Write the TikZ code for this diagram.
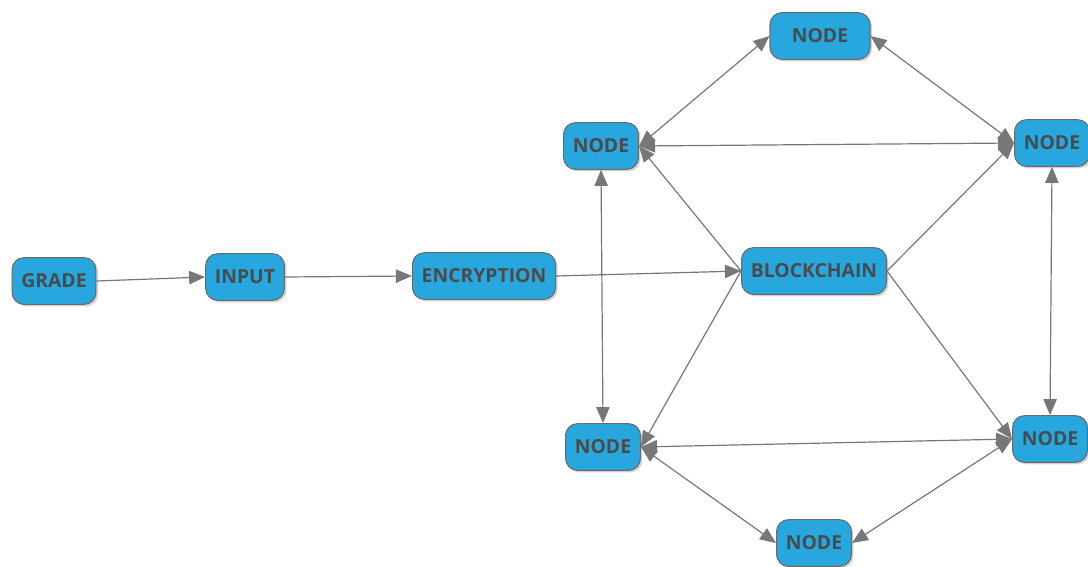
\documentclass[tikz,border=0pt]{standalone}
\usepackage{fontspec}
\setmainfont{Open Sans}
\usetikzlibrary{arrows.meta,shadows}

\definecolor{boxblue}{HTML}{27A7DE}
\definecolor{boxline}{HTML}{6A6A6A}
\definecolor{boxtext}{HTML}{4A4A4A}
\definecolor{linkgray}{HTML}{777777}

\begin{document}
\begin{tikzpicture}[x=0.75pt,y=-0.75pt]
 \tikzstyle{arrow} = [-{Triangle[length=12pt,width=10pt]},draw=linkgray,line width=0.9pt];
 \tikzstyle{both} = [{Triangle[length=12pt,width=10pt]}-{Triangle[length=12pt,width=10pt]},draw=linkgray,line width=0.9pt];
 \tikzstyle{place} = [rectangle,rounded corners=9pt,draw=boxline,fill=boxblue,line width=0.8pt,
                      minimum height=35pt,inner xsep=7pt,text=boxtext,
                      font=\fontsize{14.5}{16}\selectfont\bfseries,
                      drop shadow={opacity=0.35,shadow xshift=1.5pt,shadow yshift=-1.5pt}];

 \useasboundingbox (0,0) rectangle (1088,567);

 % input chain
 \node[place,name=grade]      at (54,281)   {GRADE};
 \node[place,name=input]      at (245,277)  {INPUT};
 \node[place,name=encryption] at (484,276)  {ENCRYPTION};
 \node[place,name=blockchain] at (814,271)  {BLOCKCHAIN};

 % peers
 \node[place,name=top,minimum width=75pt] at (820,36) {NODE};
 \node[place,name=ul]     at (601,146)  {NODE};
 \node[place,name=ur]     at (1052,143) {NODE};
 \node[place,name=ll]     at (603,447)  {NODE};
 \node[place,name=lr]     at (1050,439) {NODE};
 \node[place,name=bottom] at (814,543)  {NODE};

 \path (grade.east) edge [arrow] (input.west);
 \path (input.east) edge [arrow] (encryption.west);
 \path (encryption.east) edge [arrow] (blockchain.west);

 \path (blockchain.west) edge [arrow] (ul.east);
 \path (blockchain.west) edge [arrow] (ll.east);
 \path (blockchain.east) edge [arrow] (ur.west);
 \path (blockchain.east) edge [arrow] (lr.west);

 \path (ul.east) edge [both] (top.west);
 \path (top.east) edge [both] (ur.west);
 \path (ul.east) edge [both] (ur.west);
 \path (ul.south) edge [both] (ll.north);
 \path (ur.south) edge [both] (lr.north);
 \path (ll.east) edge [both] (lr.west);
 \path (ll.east) edge [both] (bottom.west);
 \path (bottom.east) edge [both] (lr.west);
\end{tikzpicture}
\end{document}
